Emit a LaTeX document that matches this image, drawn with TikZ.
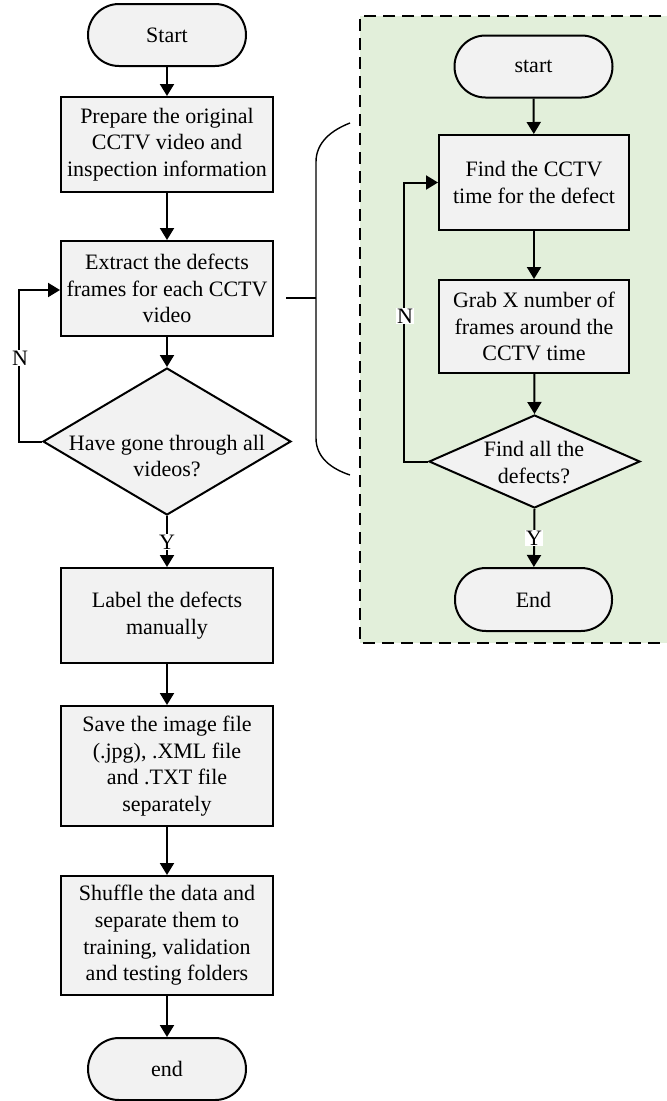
\documentclass[tikz,border=0pt]{standalone}
\usepackage{fontspec}
\setmainfont{Liberation Serif}
\usetikzlibrary{arrows.meta,shapes.geometric}
\definecolor{boxfill}{RGB}{242,242,242}
\definecolor{panelgreen}{RGB}{226,239,218}
\tikzset{
  base/.style={draw=black, line width=2pt, fill=boxfill, align=center, inner sep=0pt,
    font=\fontsize{22}{26.7}\selectfont},
  proc/.style={base, rectangle, minimum width=212pt, minimum height=95pt},
  rproc/.style={base, rectangle, minimum width=190pt, minimum height=95pt},
  term/.style={base, rectangle, rounded corners=31pt, minimum width=158pt, minimum height=62pt},
  decision/.style={base, diamond, minimum width=248pt, minimum height=147pt},
  dtext/.style={align=center, inner sep=0pt, font=\fontsize{22}{26.7}\selectfont},
  arr/.style={line width=2pt, -{Triangle[length=12pt,width=14pt]}},
  lab/.style={fill=white, inner sep=1pt, font=\fontsize{22}{24}\selectfont},
  panelborder/.style={line width=2pt, dash pattern=on 12pt off 7pt},
  bracepath/.style={line width=1.4pt}
}
\begin{document}
\begin{tikzpicture}[x=1pt,y=-1pt]
\clip (0,0) rectangle (667,1101);
\fill[white] (0,0) rectangle (667,1101);

% right panel
\fill[panelgreen] (360,16) rectangle (680,643);
\draw[panelborder] (680,16) -- (360,16) -- (360,643) -- (680,643);

% left column
\node[term] (s) at (167,35) {Start};
\node[proc] (b1) at (167,144.5) {Prepare the original\\CCTV video and\\inspection information};
\node[proc] (b2) at (167,288.5) {Extract the defects\\frames for each CCTV\\video};
\node[decision] (d1) at (167,441.5) {};
\node[dtext] (d1t) at (167,456) {Have gone through all\\videos?};
\node[proc] (b3) at (167,615.5) {Label the defects\\manually};
\node[proc, minimum height=120pt] (b4) at (167,766) {Save the image file\\(.jpg), .XML file\\and .TXT file\\separately};
\node[proc, minimum height=119pt] (b5) at (167,935.5) {Shuffle the data and\\separate them to\\training, validation\\and testing folders};
\node[term] (e) at (167,1069) {end};

\draw[arr] (s) -- (b1);
\draw[arr] (b1) -- (b2);
\draw[arr] (b2) -- (d1.north);
\draw[arr] (d1.south) -- (b3);
\node[lab] (ly) at (167,542) {Y};
\draw[arr] (b3) -- (b4);
\draw[arr] (b4) -- (b5);
\draw[arr] (b5) -- (e);
\draw[arr] (d1.west) -| ([xshift=-41pt]b2.west |- 0,290) -- (b2.west |- 0,290);
\node[lab] (ln) at (20,358) {N};

% brace
\draw[bracepath] (350,123) .. controls (332,130) and (316,142) .. (316,162) -- (316,438)
  .. controls (316,458) and (332,469) .. (350,475);
\draw[bracepath] (286,298) -- (316,298);

% right column
\node[term] (rs) at (533.5,66.5) {start};
\node[rproc] (r1) at (534,182.5) {Find the CCTV\\time for the defect};
\node[rproc, minimum height=93pt] (r2) at (534,326.5) {Grab X number of\\frames around the\\CCTV time};
\node[decision, minimum width=211pt, minimum height=93pt] (d2) at (534.5,461.5) {};
\node[dtext] (d2t) at (534,462.5) {Find all the\\defects?};
\node[term, minimum width=157pt, minimum height=63pt] (re) at (533.5,599.5) {End};

\draw[arr] (rs) -- (r1);
\draw[arr] (r1) -- (r2);
\draw[arr] (r2) -- (d2.north);
\draw[arr] (d2.south) -- (re);
\node[lab] (ry) at (534,538) {Y};
\draw[arr] (d2.west) -| ([xshift=-34pt]r1.west) -- (r1.west);
\node[lab] (rn) at (405,316) {N};
\end{tikzpicture}
\end{document}
